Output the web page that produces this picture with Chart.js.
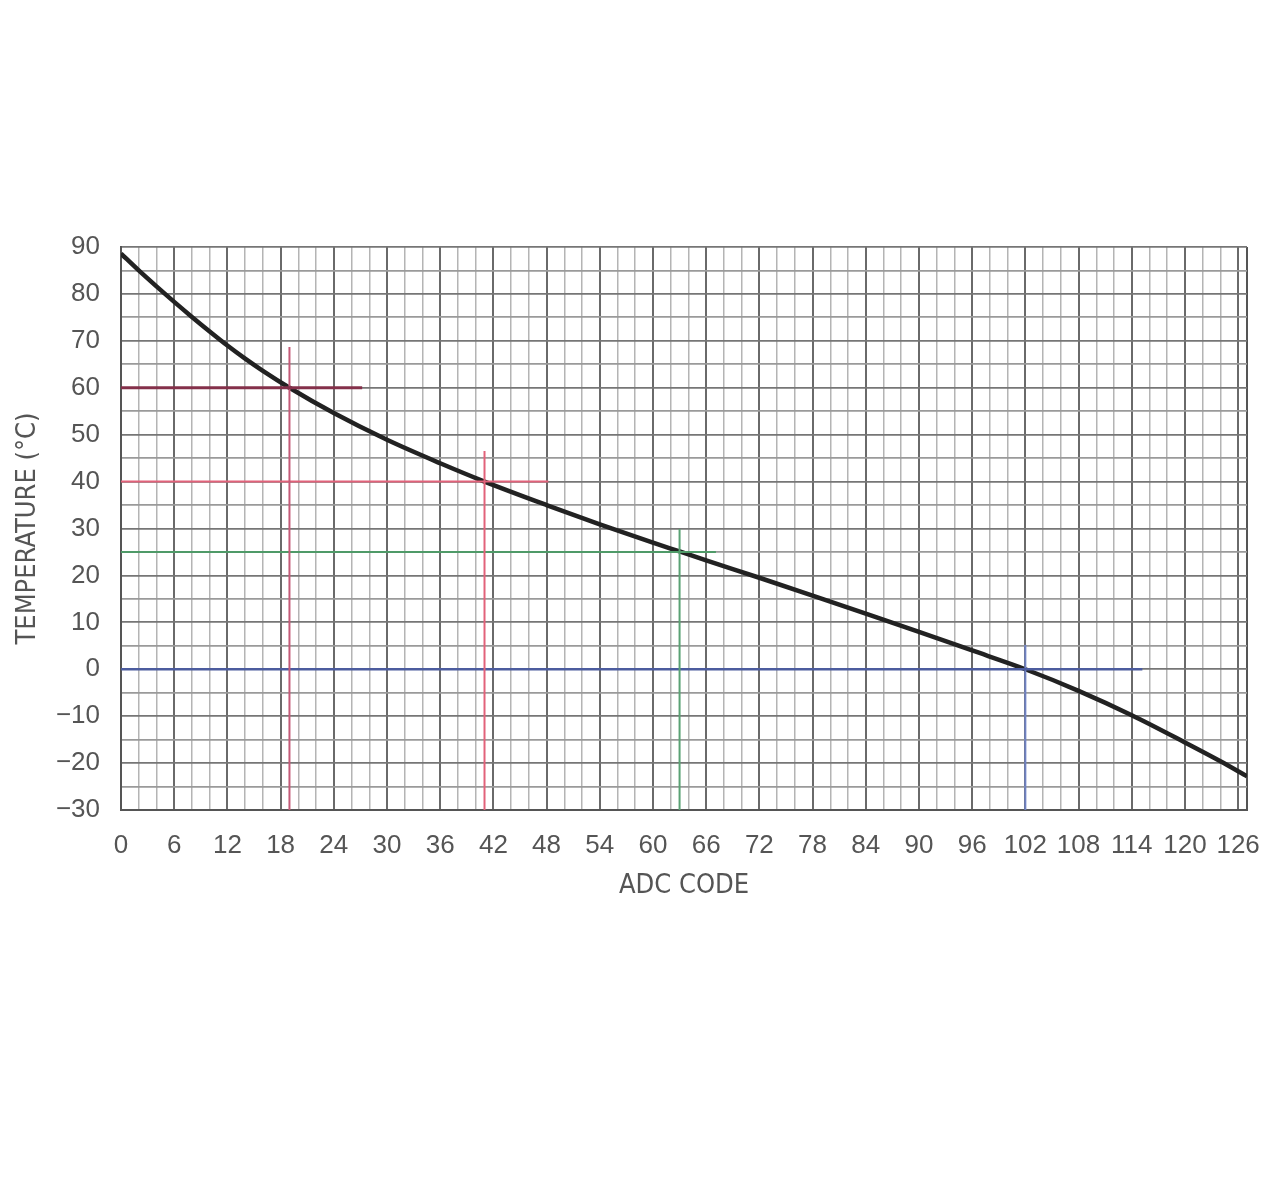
<!DOCTYPE html>
<html>
<head>
<meta charset="utf-8">
<script src="https://cdn.jsdelivr.net/npm/chart.js@4"></script>
<style>
  html, body { margin: 0; padding: 0; background: #ffffff; }
  #wrap { width: 1280px; height: 1190px; }
</style>
</head>
<body>
<div id="wrap"><canvas id="adcChart" width="1280" height="1190"></canvas></div>
<script>
// ADC code vs temperature curve
const adcCodes = [0, 2, 4, 6, 8, 10, 12, 14, 16, 19, 24, 30, 36, 41, 48, 54, 60, 63, 66, 72, 78, 84, 90, 96, 102, 108, 114, 120, 124, 127];
const temps = [88.6, 85.0, 81.6, 78.3, 75.1, 72.0, 69.0, 66.2, 63.6, 60.0, 54.6, 48.9, 43.9, 40.0, 35.0, 30.9, 27.0, 25.1, 23.2, 19.5, 15.7, 11.85, 7.95, 4.0, 0, -4.6, -9.8, -15.6, -19.6, -22.8];

// marker lines: horizontal from code 0 to hEnd at temp, vertical at code from -30 up to vTop
const markerTemps = [60, 40, 25, 0];
const markerCodes = [19, 41, 63, 102];
const markerHEnd = [27.2, 48.2, 67.1, 115.2];
const markerVTop = [68.7, 46.5, 29.9, 5.2];

const xMin = 0, xMax = 127;
const yMin = -30, yMax = 90;
const xTickStep = 2;
const xLabelStep = 6;
const yTickStep = 5;
const yLabelStep = 10;

const tickFont = "'Liberation Sans', Arial, sans-serif";
const titleFont = "'DejaVu Sans Condensed', 'DejaVu Sans', sans-serif";

const hColors = ['#84304a', '#e2627a', '#4f9a68', '#4c5c9e'];
const vColors = ['#c45a78', '#e2627a', '#5aa274', '#6f82c4'];
const hWidths = [3, 2, 2, 2.5];
const vWidths = [2, 2, 2, 2];

const datasets = [];
markerTemps.forEach((t, i) => {
    datasets.push({
        data: [{ x: 0, y: t }, { x: markerHEnd[i], y: t }],
        borderColor: hColors[i],
        borderWidth: hWidths[i],
        pointRadius: 0
    });
    datasets.push({
        data: [{ x: markerCodes[i], y: yMin }, { x: markerCodes[i], y: markerVTop[i] }],
        borderColor: vColors[i],
        borderWidth: vWidths[i],
        pointRadius: 0
    });
});
datasets.push({
    data: adcCodes.map((c, i) => ({ x: c, y: temps[i] })),
    borderColor: '#222222',
    borderWidth: 4.5,
    pointRadius: 0,
    cubicInterpolationMode: 'monotone'
});

function xTickList() {
    const list = [];
    for (let v = xMin; v <= xMax; v += xTickStep) list.push({ value: v });
    if (list[list.length - 1].value !== xMax) list.push({ value: xMax });
    return list;
}

new Chart(document.getElementById('adcChart').getContext('2d'), {
    type: 'line',
    data: { datasets: datasets },
    options: {
        responsive: false,
        animation: false,
        layout: { padding: { left: 8, top: 247, right: 33, bottom: 284 } },
        plugins: { legend: { display: false }, tooltip: { enabled: false } },
        scales: {
            x: {
                type: 'linear',
                min: xMin,
                max: xMax,
                afterBuildTicks: s => { s.ticks = xTickList(); },
                afterFit: s => { s.height = 96; },
                border: { color: '#555555', width: 2 },
                grid: {
                    drawTicks: false,
                    color: ctx => {
                        if (!ctx.tick) return '#b4b4b4';
                        if (ctx.tick.value === xMax) return '#555555';
                        return ctx.tick.value % xLabelStep === 0 ? '#6a6a6a' : '#b4b4b4';
                    },
                    lineWidth: ctx => (ctx.tick && (ctx.tick.value % xLabelStep === 0 || ctx.tick.value === xMax)) ? 2 : 1.5
                },
                ticks: {
                    autoSkip: false,
                    maxRotation: 0,
                    padding: 20,
                    color: '#555555',
                    font: { family: tickFont, size: 26 },
                    callback: v => (v % xLabelStep === 0 ? v : '')
                },
                title: {
                    display: true,
                    text: 'ADC CODE',
                    color: '#555555',
                    font: { family: titleFont, size: 27 }
                }
            },
            y: {
                min: yMin,
                max: yMax,
                afterFit: s => { s.width = 113; },
                border: { color: '#555555', width: 2 },
                grid: {
                    drawTicks: false,
                    color: ctx => (ctx.tick && ctx.tick.value % yLabelStep === 0) ? '#767676' : '#9a9a9a',
                    lineWidth: 1.8
                },
                ticks: {
                    stepSize: yTickStep,
                    autoSkip: false,
                    padding: 21,
                    color: '#555555',
                    font: { family: tickFont, size: 26 },
                    callback: v => (v % yLabelStep === 0 ? (v < 0 ? '\u2212' + Math.abs(v) : v) : '')
                },
                title: {
                    display: true,
                    text: 'TEMPERATURE (°C)',
                    color: '#555555',
                    font: { family: titleFont, size: 27 }
                }
            }
        }
    }
});
</script>
</body>
</html>
